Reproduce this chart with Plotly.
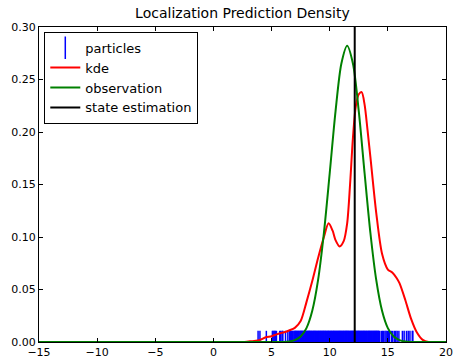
import plotly.graph_objects as go

# ---- data ----
particles = [3.84, 4.0, 4.55, 5.07, 5.12, 5.2, 5.28, 5.33, 5.42, 5.7, 5.78, 5.9, 5.97,
             6.2, 6.4, 6.55, 6.62, 6.7, 6.78, 6.85, 6.93, 7.0, 7.04, 7.08, 7.15, 7.19,
             7.22, 7.3, 7.33, 7.37, 7.45, 7.49, 7.52, 7.6, 7.63, 7.66, 7.74, 7.77, 7.8,
             7.88, 7.91, 7.95, 8.02, 8.06, 8.1, 8.17, 8.2, 8.24, 8.3, 8.34, 8.38, 8.45,
             8.48, 8.52, 8.6, 8.63, 8.66, 8.73, 8.77, 8.8, 8.88, 8.91, 8.95, 9.02, 9.05,
             9.08, 9.15, 9.19, 9.23, 9.3, 9.33, 9.37, 9.44, 9.47, 9.5, 9.58, 9.61, 9.65,
             9.72, 9.76, 9.8, 9.87, 9.9, 9.93, 10.0, 10.04, 10.08, 10.15, 10.18, 10.22,
             10.3, 10.33, 10.36, 10.43, 10.47, 10.5, 10.58, 10.61, 10.65, 10.72, 10.76,
             10.8, 10.86, 10.9, 10.93, 11.0, 11.04, 11.08, 11.15, 11.18, 11.22, 11.3,
             11.33, 11.37, 11.44, 11.47, 11.5, 11.58, 11.61, 11.65, 11.72, 11.76, 11.8,
             11.87, 11.9, 11.94, 12.0, 12.04, 12.08, 12.15, 12.18, 12.22, 12.3, 12.33,
             12.37, 12.44, 12.47, 12.5, 12.58, 12.61, 12.65, 12.72, 12.76, 12.8, 12.87,
             12.9, 12.94, 13.0, 13.04, 13.08, 13.15, 13.18, 13.22, 13.3, 13.33, 13.37,
             13.44, 13.47, 13.5, 13.58, 13.61, 13.65, 13.72, 13.76, 13.8, 13.87, 13.9,
             13.94, 14.0, 14.04, 14.08, 14.15, 14.18, 14.22, 14.3, 14.45, 14.55, 14.62,
             14.75, 14.85, 14.95, 15.05, 15.12, 15.3, 15.4, 15.55, 15.68, 15.8, 15.95,
             16.25, 16.4, 16.6, 16.75, 16.9, 17.1, 17.15]
particle_y = [0.0] * len(particles)

kde_x = [-15, 2.5, 3.0, 3.5, 4.0, 4.5, 5.0, 5.5, 6.0, 6.5, 7.0, 7.5, 8.0, 8.5, 9.0,
         9.5, 9.9, 10.25, 10.5, 10.85, 11.2, 11.5, 11.75, 12.0, 12.25, 12.5, 12.75,
         13.0, 13.25, 13.5, 14.0, 14.5, 15.0, 15.4, 15.75, 16.0, 16.5, 17.0, 17.5,
         18.0, 18.5, 20]
kde_y = [0, 0, 0.0005, 0.001, 0.002, 0.0045, 0.0055, 0.0075, 0.009, 0.011, 0.0135,
         0.02, 0.038, 0.058, 0.08, 0.1, 0.113, 0.106, 0.097, 0.091, 0.096, 0.113,
         0.15, 0.195, 0.225, 0.236, 0.238, 0.226, 0.202, 0.176, 0.123, 0.084, 0.069,
         0.066, 0.061, 0.056, 0.04, 0.022, 0.009, 0.002, 0, 0]

obs_x = [-15, 5.5, 6.0, 6.5, 7.0, 7.5, 8.0, 8.5, 9.0, 9.5, 10.0, 10.5, 11.0, 11.5,
         12.0, 12.5, 13.0, 13.5, 14.0, 14.5, 15.0, 15.5, 16.0, 16.5, 17.0, 17.5, 20]
obs_y = [0, 0, 0.0001, 0.0005, 0.0018, 0.0052, 0.0132, 0.0297, 0.0591, 0.1038,
         0.1607, 0.2197, 0.265, 0.2821, 0.265, 0.2197, 0.1607, 0.1038, 0.0591,
         0.0297, 0.0132, 0.0052, 0.0018, 0.0005, 0.0001, 0, 0]

state_estimation = 12.15
est_y = [0.0, 0.30]

x_ticks = [-15, -10, -5, 0, 5, 10, 15, 20]
x_labels = ["\u221215", "\u221210", "\u22125", "0", "5", "10", "15", "20"]
y_ticks = [0.0, 0.05, 0.10, 0.15, 0.20, 0.25, 0.30]
y_labels = ["0.00", "0.05", "0.10", "0.15", "0.20", "0.25", "0.30"]

fig = go.Figure()
fig.add_trace(go.Scatter(
    x=particles, y=particle_y, mode="markers", name="particles",
    marker=dict(symbol="line-ns", size=16, color="blue",
                line=dict(color="blue", width=1.5)),
    cliponaxis=True))
fig.add_trace(go.Scatter(
    x=kde_x, y=kde_y, mode="lines", name="kde",
    line=dict(color="red", width=2, shape="spline", smoothing=0.8)))
fig.add_trace(go.Scatter(
    x=obs_x, y=obs_y, mode="lines", name="observation",
    line=dict(color="green", width=2, shape="spline", smoothing=0.8)))
fig.add_trace(go.Scatter(
    x=[state_estimation, state_estimation], y=est_y, mode="lines",
    name="state estimation", line=dict(color="black", width=2)))

axis_common = dict(showline=True, linecolor="black", linewidth=1, mirror="ticks",
                   ticks="inside", ticklen=4, tickcolor="black", showgrid=False,
                   zeroline=False, automargin=False,
                   tickfont=dict(size=11, color="black"))

fig.update_layout(
    width=460, height=360,
    margin=dict(l=39, r=14, t=27, b=18),
    paper_bgcolor="white", plot_bgcolor="white",
    font=dict(family="DejaVu Sans", color="black"),
    title=dict(text="Localization Prediction Density", x=0.527, xanchor="center",
               y=0.965, yanchor="middle", font=dict(size=14)),
    xaxis=dict(range=[-15, 20], tickvals=x_ticks, ticktext=x_labels, **axis_common),
    yaxis=dict(range=[0, 0.30], tickvals=y_ticks, ticktext=y_labels, **axis_common),
    legend=dict(x=0.013, y=0.985, xanchor="left", yanchor="top",
                bordercolor="black", borderwidth=1, bgcolor="white",
                font=dict(size=13), tracegroupgap=0, itemwidth=30),
    showlegend=True,
)

fig.write_html("out.html")
